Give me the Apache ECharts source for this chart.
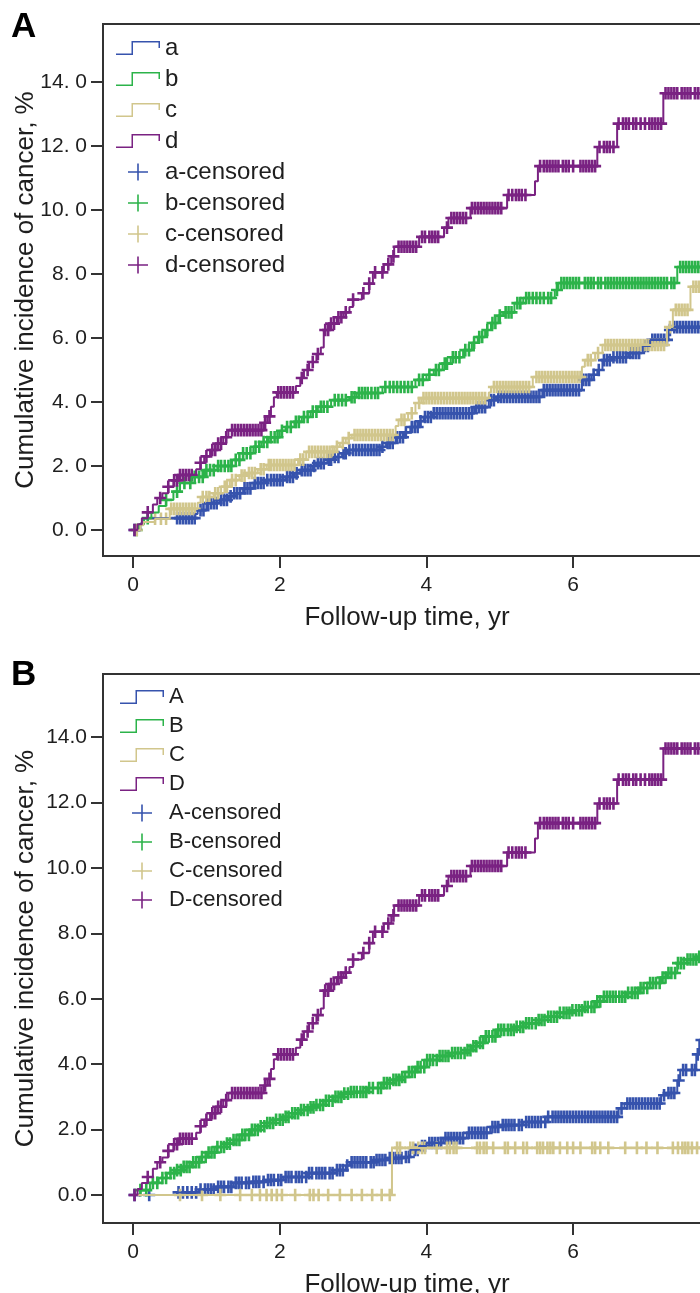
<!DOCTYPE html>
<html>
<head>
<meta charset="utf-8">
<script src="https://cdn.jsdelivr.net/npm/echarts@6/dist/echarts.min.js"></script>
<style>
  html, body { margin: 0; padding: 0; background: #fff; }
  #chart { width: 700px; height: 1293px; }
</style>
</head>
<body>
<div id="chart"></div>
<script>
// axis ticks
const xTicks = [0, 2, 4, 6, 8];
const yTicks = [0, 2, 4, 6, 8, 10, 12, 14];

// legend names
const namesA = ["a", "b", "c", "d"];
const namesB = ["A", "B", "C", "D"];

// Kaplan-Meier style step points [years, %]
const curve_a = [[0,0],[0.1,0.2],[0.14,0.37],[0.85,0.5],[0.88,0.62],[1.0,0.84],[1.18,0.94],[1.3,1.05],[1.37,1.15],
  [1.5,1.3],[1.64,1.47],[1.8,1.56],[2.08,1.66],[2.2,1.77],[2.28,1.87],[2.45,2.0],[2.5,2.09],[2.65,2.2],[2.73,2.28],
  [2.85,2.4],[2.93,2.5],[3.38,2.6],[3.45,2.72],[3.58,2.9],[3.7,3.05],[3.78,3.22],[3.9,3.4],[3.96,3.53],[4.08,3.65],
  [4.65,3.84],[4.85,4.06],[4.95,4.16],[5.58,4.37],[6.12,4.69],[6.25,4.85],[6.33,5.0],[6.4,5.31],[6.52,5.4],
  [6.75,5.53],[6.95,5.75],[7.05,5.94],[7.3,6.25],[7.35,6.34],[7.9,6.34]];
const curve_b = [[0,0],[0.08,0.18],[0.15,0.37],[0.25,0.55],[0.35,0.75],[0.45,0.94],[0.55,1.2],[0.64,1.47],[0.8,1.66],
  [0.98,1.87],[1.15,2.0],[1.35,2.19],[1.5,2.4],[1.64,2.6],[1.75,2.75],[1.85,2.9],[2.0,3.1],[2.08,3.22],[2.2,3.38],
  [2.3,3.53],[2.42,3.7],[2.52,3.85],[2.7,4.06],[2.95,4.15],[3.05,4.28],[3.4,4.47],[3.85,4.69],[4.0,4.85],[4.1,5.0],
  [4.22,5.2],[4.33,5.4],[4.5,5.62],[4.62,5.85],[4.7,6.03],[4.8,6.25],[4.88,6.47],[4.98,6.7],[5.05,6.8],[5.2,7.09],
  [5.32,7.25],[5.75,7.5],[5.8,7.72],[7.42,8.22],[7.9,8.22]];
const curve_c = [[0,0],[0.1,0.15],[0.14,0.25],[0.3,0.35],[0.5,0.66],[0.88,0.85],[0.92,1.03],[1.1,1.15],[1.2,1.35],
  [1.32,1.56],[1.45,1.7],[1.55,1.78],[1.7,1.9],[1.82,2.03],[2.25,2.2],[2.36,2.44],[2.75,2.6],[2.82,2.72],[2.9,2.87],
  [2.98,2.97],[3.58,3.25],[3.62,3.44],[3.75,3.65],[3.85,3.97],[3.93,4.12],[4.85,4.3],[4.88,4.47],[5.45,4.78],
  [6.12,5.1],[6.16,5.31],[6.3,5.53],[6.4,5.78],[7.28,6.34],[7.36,6.88],[7.6,7.6],[7.9,7.6]];
const curve_d = [[0,0],[0.06,0.18],[0.12,0.37],[0.2,0.55],[0.27,0.8],[0.33,1.0],[0.4,1.15],[0.48,1.35],[0.55,1.55],
  [0.62,1.72],[0.86,1.9],[0.92,2.1],[0.97,2.3],[1.05,2.5],[1.15,2.7],[1.23,2.9],[1.3,3.12],[1.78,3.35],[1.83,3.55],
  [1.88,3.85],[1.92,4.15],[1.96,4.3],[2.22,4.5],[2.28,4.75],[2.33,5.0],[2.4,5.25],[2.5,5.5],[2.56,5.7],[2.6,6.25],
  [2.68,6.45],[2.78,6.65],[2.87,6.8],[2.95,6.97],[3.0,7.2],[3.12,7.4],[3.22,7.7],[3.27,8.05],[3.42,8.3],[3.52,8.55],
  [3.56,8.85],[3.9,9.16],[4.24,9.45],[4.3,9.75],[4.6,10.06],[5.1,10.47],[5.48,10.9],[5.52,11.37],[6.33,11.97],
  [6.6,12.7],[7.23,13.65],[7.9,13.65]];

// step points
const curve_A = [[0,0],[0.6,0.08],[0.9,0.17],[1.14,0.25],[1.37,0.37],[1.6,0.4],[1.82,0.46],[2.05,0.55],[2.37,0.67],
  [2.73,0.76],[2.9,0.9],[2.96,1.0],[3.3,1.07],[3.46,1.13],[3.7,1.16],[3.78,1.38],[3.9,1.5],[4.0,1.59],[4.23,1.74],
  [4.55,1.9],[4.87,2.08],[5.0,2.14],[5.32,2.23],[5.65,2.39],[6.62,2.65],[6.7,2.8],[7.2,3.05],[7.28,3.12],
  [7.42,3.5],[7.46,3.82],[7.68,4.3],[7.72,4.74],[7.9,4.74]];
const curve_B = [[0,0],[0.1,0.15],[0.23,0.37],[0.35,0.52],[0.46,0.67],[0.57,0.76],[0.68,0.86],[0.8,1.0],[0.91,1.16],
  [1.02,1.3],[1.14,1.47],[1.25,1.57],[1.37,1.68],[1.48,1.84],[1.6,1.99],[1.71,2.1],[1.82,2.2],[1.94,2.3],[2.05,2.39],
  [2.17,2.5],[2.28,2.6],[2.39,2.68],[2.5,2.75],[2.62,2.88],[2.73,3.0],[2.85,3.1],[2.96,3.15],[3.19,3.27],[3.41,3.42],
  [3.55,3.52],[3.64,3.61],[3.76,3.76],[3.87,3.91],[4.0,4.13],[4.15,4.25],[4.32,4.34],[4.55,4.43],[4.62,4.55],
  [4.69,4.65],[4.8,4.85],[4.96,5.05],[5.23,5.14],[5.35,5.25],[5.5,5.35],[5.65,5.45],[5.82,5.57],[5.98,5.65],
  [6.14,5.75],[6.3,5.92],[6.41,6.06],[6.73,6.18],[6.9,6.33],[7.05,6.48],[7.2,6.65],[7.28,6.79],[7.42,7.09],
  [7.55,7.2],[7.69,7.28],[7.9,7.3]];
const curve_C = [[0,0],[3.53,1.44],[7.9,1.44]];
const curve_D = curve_d; // same curve in both panels

// censored times (years)
const cens_a = [0.02,0.6,0.64,0.68,0.72,0.76,0.8,0.84,0.92,0.96,1.02,1.06,1.1,1.14,1.2,1.24,1.28,1.33,1.38,1.42,
  1.46,1.52,1.56,1.6,1.66,1.7,1.74,1.78,1.83,1.88,1.92,1.96,2.0,2.04,2.1,2.14,2.18,2.23,2.3,2.34,2.38,2.42,2.47,
  2.52,2.56,2.6,2.67,2.7,2.75,2.8,2.87,2.9,2.95,3.0,3.04,3.08,3.12,3.16,3.2,3.24,3.28,3.32,3.36,3.4,3.47,3.5,
  3.54,3.6,3.64,3.68,3.72,3.8,3.84,3.88,3.92,3.98,4.02,4.06,4.1,4.14,4.18,4.22,4.26,4.3,4.34,4.38,4.42,4.46,4.5,
  4.54,4.58,4.62,4.68,4.72,4.76,4.8,4.88,4.92,4.98,5.02,5.06,5.1,5.14,5.18,5.22,5.26,5.3,5.34,5.38,5.42,5.46,
  5.5,5.54,5.6,5.64,5.68,5.72,5.76,5.8,5.84,5.88,5.92,5.96,6.0,6.04,6.08,6.14,6.18,6.22,6.28,6.35,6.42,6.46,6.5,
  6.55,6.6,6.64,6.68,6.72,6.78,6.82,6.86,6.9,6.98,7.02,7.08,7.12,7.16,7.2,7.24,7.28,7.32,7.38,7.42,7.46,7.5,
  7.54,7.58,7.62,7.66,7.7,7.74,7.78,7.82,7.86];
const cens_b = [0.05,0.2,0.45,0.6,0.7,0.78,0.84,0.9,0.95,1.0,1.05,1.1,1.16,1.2,1.25,1.3,1.34,1.4,1.45,1.5,1.55,
  1.6,1.67,1.72,1.78,1.83,1.88,1.93,1.97,2.03,2.1,2.15,2.22,2.26,2.33,2.38,2.45,2.5,2.56,2.6,2.65,2.75,2.8,2.85,
  2.9,2.98,3.02,3.08,3.12,3.16,3.2,3.25,3.3,3.34,3.44,3.5,3.55,3.6,3.65,3.7,3.75,3.8,3.9,3.95,4.04,4.13,4.17,
  4.25,4.28,4.36,4.4,4.45,4.53,4.58,4.65,4.72,4.76,4.83,4.9,4.94,5.0,5.08,5.12,5.16,5.24,5.28,5.36,5.4,5.45,
  5.5,5.55,5.6,5.66,5.7,5.78,5.84,5.88,5.92,5.96,6.0,6.04,6.08,6.16,6.2,6.24,6.28,6.34,6.38,6.44,6.48,6.52,
  6.56,6.6,6.64,6.68,6.72,6.76,6.8,6.84,6.88,6.92,6.96,7.0,7.04,7.08,7.12,7.16,7.2,7.24,7.28,7.34,7.38,7.46,
  7.5,7.54,7.58,7.62,7.66,7.7,7.74,7.8,7.84];
const cens_c = [0.05,0.3,0.38,0.45,0.52,0.56,0.6,0.64,0.68,0.72,0.76,0.8,0.84,0.95,1.0,1.04,1.12,1.16,1.25,1.28,
  1.35,1.4,1.48,1.52,1.58,1.62,1.66,1.74,1.78,1.85,1.88,1.92,1.96,2.0,2.04,2.08,2.12,2.16,2.2,2.28,2.32,2.4,2.44,
  2.48,2.52,2.56,2.6,2.64,2.68,2.72,2.78,2.86,2.94,3.02,3.06,3.1,3.14,3.18,3.22,3.26,3.3,3.34,3.38,3.42,3.46,3.5,
  3.54,3.66,3.7,3.8,3.9,3.96,4.0,4.04,4.08,4.12,4.16,4.2,4.24,4.28,4.32,4.36,4.4,4.44,4.48,4.52,4.56,4.6,4.64,
  4.68,4.72,4.76,4.8,4.92,4.96,5.0,5.04,5.08,5.12,5.16,5.2,5.24,5.28,5.32,5.36,5.4,5.5,5.54,5.58,5.62,5.66,5.7,
  5.74,5.78,5.82,5.86,5.9,5.94,5.98,6.02,6.06,6.1,6.2,6.24,6.34,6.44,6.48,6.52,6.56,6.6,6.64,6.68,6.72,6.76,6.8,
  6.84,6.88,6.92,6.96,7.0,7.04,7.08,7.12,7.16,7.2,7.24,7.32,7.4,7.44,7.48,7.52,7.56,7.64,7.68,7.72,7.76,7.8,7.84];
const cens_d = [0.02,0.2,0.37,0.48,0.56,0.6,0.64,0.68,0.72,0.76,0.8,0.92,1.0,1.08,1.12,1.16,1.2,1.27,1.35,1.39,
  1.43,1.47,1.51,1.55,1.59,1.63,1.67,1.71,1.75,1.8,1.86,1.98,2.02,2.06,2.1,2.14,2.18,2.3,2.38,2.45,2.52,2.62,
  2.66,2.7,2.74,2.8,2.84,2.9,3.0,3.14,3.22,3.3,3.4,3.48,3.55,3.62,3.66,3.7,3.74,3.78,3.82,3.86,3.94,3.98,4.04,
  4.08,4.12,4.16,4.28,4.34,4.38,4.42,4.46,4.5,4.54,4.62,4.66,4.7,4.74,4.78,4.82,4.86,4.9,4.94,4.98,5.02,5.12,
  5.17,5.22,5.26,5.3,5.35,5.55,5.6,5.64,5.68,5.72,5.76,5.8,5.86,5.9,5.94,6.0,6.1,6.14,6.18,6.22,6.26,6.3,6.36,
  6.42,6.46,6.5,6.55,6.62,6.68,6.72,6.76,6.82,6.86,6.92,6.98,7.04,7.08,7.12,7.16,7.2,7.26,7.3,7.34,7.38,7.42,
  7.48,7.52,7.56,7.6,7.66,7.7,7.74,7.8,7.85];
const cens_A = [0.02,0.22,0.62,0.68,0.74,0.8,0.86,0.92,0.98,1.02,1.06,1.1,1.16,1.2,1.24,1.3,1.34,1.4,1.44,1.48,
  1.54,1.58,1.64,1.68,1.72,1.78,1.84,1.88,1.92,1.98,2.02,2.08,2.12,2.16,2.22,2.26,2.3,2.36,2.4,2.44,2.5,2.54,
  2.58,2.62,2.68,2.72,2.78,2.82,2.86,2.92,2.98,3.02,3.06,3.1,3.14,3.18,3.24,3.28,3.32,3.36,3.4,3.44,3.5,3.54,
  3.58,3.62,3.66,3.72,3.76,3.84,3.88,3.94,3.98,4.04,4.08,4.12,4.16,4.2,4.26,4.3,4.34,4.38,4.42,4.46,4.5,4.58,
  4.62,4.66,4.7,4.74,4.78,4.82,4.9,4.94,4.98,5.04,5.08,5.12,5.16,5.2,5.26,5.3,5.36,5.4,5.44,5.48,5.52,5.56,
  5.62,5.66,5.72,5.76,5.8,5.84,5.88,5.92,5.96,6.0,6.04,6.08,6.12,6.16,6.2,6.24,6.28,6.32,6.36,6.4,6.44,6.48,
  6.52,6.56,6.6,6.66,6.74,6.78,6.82,6.86,6.9,6.94,6.98,7.02,7.06,7.1,7.14,7.18,7.24,7.3,7.34,7.38,7.44,7.5,
  7.54,7.62,7.66,7.7,7.75,7.8,7.86];
const cens_B = [0.1,0.18,0.27,0.33,0.4,0.45,0.51,0.56,0.6,0.65,0.69,0.73,0.77,0.82,0.86,0.9,0.94,0.99,1.03,1.07,
  1.11,1.15,1.2,1.24,1.28,1.32,1.37,1.41,1.45,1.49,1.53,1.58,1.62,1.66,1.7,1.74,1.79,1.83,1.87,1.91,1.95,2.0,
  2.04,2.08,2.12,2.17,2.21,2.25,2.29,2.33,2.38,2.42,2.46,2.5,2.55,2.59,2.63,2.67,2.72,2.76,2.8,2.84,2.88,2.93,
  2.97,3.01,3.05,3.1,3.14,3.18,3.22,3.27,3.34,3.38,3.42,3.46,3.5,3.55,3.59,3.63,3.67,3.71,3.76,3.8,3.84,3.88,
  3.92,3.97,4.01,4.05,4.09,4.14,4.18,4.22,4.26,4.3,4.35,4.39,4.43,4.47,4.52,4.56,4.6,4.64,4.68,4.73,4.77,4.81,
  4.85,4.9,4.94,4.98,5.02,5.06,5.11,5.15,5.19,5.23,5.28,5.32,5.36,5.4,5.44,5.49,5.53,5.57,5.61,5.66,5.7,5.74,
  5.78,5.82,5.87,5.91,5.95,5.99,6.04,6.08,6.12,6.16,6.2,6.25,6.29,6.33,6.37,6.42,6.46,6.5,6.54,6.58,6.63,6.67,
  6.71,6.75,6.8,6.84,6.88,6.92,6.96,7.01,7.05,7.09,7.13,7.18,7.22,7.26,7.3,7.34,7.39,7.43,7.47,7.51,7.56,7.6,
  7.64,7.68,7.72,7.77,7.81,7.85];
const cens_C = [0.64,0.94,1.19,1.46,1.62,1.73,1.82,1.89,1.96,2.03,2.21,2.41,2.46,2.53,2.66,2.82,2.98,3.12,3.26,
  3.39,3.5,3.6,3.64,3.78,3.82,3.89,3.94,3.98,4.14,4.28,4.32,4.37,4.41,4.69,4.73,4.78,4.82,4.91,5.07,5.11,5.21,
  5.32,5.37,5.51,5.55,5.59,5.65,5.69,5.73,5.82,5.92,6.0,6.1,6.26,6.3,6.37,6.48,6.71,6.87,7.0,7.15,7.36,7.43,
  7.49,7.53,7.57,7.62,7.69,7.75,7.8];
const cens_D = cens_d;

const colors = ["#3653ad", "#2cb34a", "#d1c68c", "#7a2282"];
const FONT = "Liberation Sans, Arial, sans-serif";
const TXT = "#1e1e1e";

// marker shapes
const PLUS = "path://M4.7,0H7.3V5H12V7.6H7.3V12.6H4.7V7.6H0V5H4.7Z";
const LEG_PLUS = "path://M9.2,0H10.8V7.7H20V9.3H10.8V17H9.2V9.3H0V7.7H9.2Z";
const LEG_STEP = "path://M0,12.5H15.5V0H44V7H42.5V1.5H17V14H0Z";

// y value of a step curve at time t (censor marks sit on the curve)
function valueAt(steps, t) {
  let v = steps[0][1];
  for (const p of steps) {
    if (p[0] <= t) v = p[1];
    else break;
  }
  return v;
}

function makeSeries(gi, names, curves, cens) {
  const out = [];
  names.forEach((n, i) => {
    out.push({
      type: "line", name: n, xAxisIndex: gi, yAxisIndex: gi,
      data: curves[i], step: "end", symbol: "none", showSymbol: false,
      color: colors[i], lineStyle: { width: 2, color: colors[i] }, silent: true,
    });
  });
  names.forEach((n, i) => {
    out.push({
      type: "scatter", name: n + "-censored", xAxisIndex: gi, yAxisIndex: gi,
      data: cens[i].map((t) => [t, valueAt(curves[i], t)]),
      symbol: PLUS, symbolSize: [12, 12.6], color: colors[i],
      itemStyle: { opacity: 1 }, silent: true,
    });
  });
  return out;
}

function legendFor(names, left, top, fontSize) {
  const data = [];
  names.forEach((n, i) => data.push({ name: n, icon: LEG_STEP, itemStyle: { color: colors[i] } }));
  names.forEach((n, i) => data.push({ name: n + "-censored", icon: LEG_PLUS, itemStyle: { color: colors[i], opacity: 1 } }));
  return {
    data: data, orient: "vertical", left: left, top: top, padding: 0,
    itemWidth: 44, itemHeight: 17, itemGap: 7, symbolKeepAspect: true, selectedMode: false,
    textStyle: { fontSize: fontSize, lineHeight: fontSize, color: TXT, fontFamily: FONT },
  };
}

function xAxisFor(gi) {
  return {
    type: "value", gridIndex: gi, min: -0.41, max: 7.88,
    name: "Follow-up time, yr", nameLocation: "middle", nameGap: 49, nameMoveOverlap: false,
    nameTextStyle: { fontSize: 26, color: TXT, fontFamily: FONT },
    axisLine: { onZero: false, lineStyle: { color: "#333", width: 2 } },
    axisTick: { customValues: xTicks, length: 12, lineStyle: { color: "#333", width: 2 } },
    axisLabel: { customValues: xTicks, margin: 19, fontSize: 21, color: TXT, fontFamily: FONT },
    splitLine: { show: false },
  };
}

function yAxisFor(gi, min, max, spaced) {
  return {
    type: "value", gridIndex: gi, min: min, max: max,
    name: "Cumulative incidence of cancer, %", nameLocation: "middle", nameGap: 64, nameMoveOverlap: false,
    nameTextStyle: { fontSize: 26, color: TXT, fontFamily: FONT },
    axisLine: { onZero: false, lineStyle: { color: "#333", width: 2 } },
    axisTick: { customValues: yTicks, length: 12, lineStyle: { color: "#333", width: 2 } },
    axisLabel: {
      customValues: yTicks, margin: 16, fontSize: 21, color: TXT, fontFamily: FONT,
      formatter: (v) => (spaced ? v.toFixed(1).replace(".", ". ") : v.toFixed(1)),
    },
    splitLine: { show: false },
  };
}

const chart = echarts.init(document.getElementById("chart"));
chart.setOption({
  animation: false,
  backgroundColor: "#fff",
  textStyle: { fontFamily: FONT },
  graphic: [
    { type: "text", left: 11, top: 10, style: { text: "A", font: "bold 35px " + FONT, fill: "#000" } },
    { type: "text", left: 11, top: 658, style: { text: "B", font: "bold 35px " + FONT, fill: "#000" } },
  ],
  legend: [legendFor(namesA, 116, 36, 24), legendFor(namesB, 120, 686, 22)],
  grid: [
    { left: 103, top: 24, width: 608, height: 532, show: true, borderColor: "#333", borderWidth: 2, outerBoundsMode: "none" },
    { left: 103, top: 674, width: 608, height: 549, show: true, borderColor: "#333", borderWidth: 2, outerBoundsMode: "none" },
  ],
  xAxis: [xAxisFor(0), xAxisFor(1)],
  yAxis: [yAxisFor(0, -0.8125, 15.8125, true), yAxisFor(1, -0.856, 15.93, false)],
  series: makeSeries(0, namesA, [curve_a, curve_b, curve_c, curve_d], [cens_a, cens_b, cens_c, cens_d])
    .concat(makeSeries(1, namesB, [curve_A, curve_B, curve_C, curve_D], [cens_A, cens_B, cens_C, cens_D])),
});

window.addEventListener("resize", () => {
  if (chart) {
    chart.resize();
  }
});
</script>
</body>
</html>
